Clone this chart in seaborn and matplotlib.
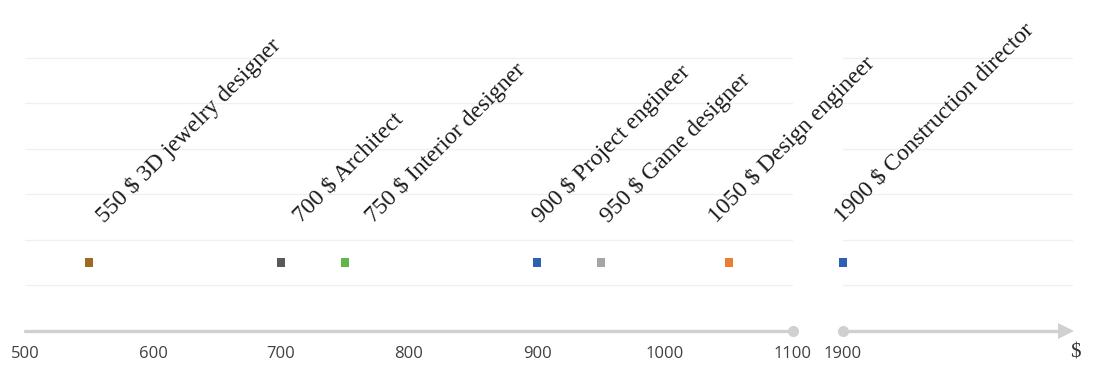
import matplotlib
matplotlib.use("Agg")
import matplotlib.pyplot as plt
import seaborn as sns
import pandas as pd

# salary per job (USD)
salaries = [550, 700, 750, 900, 950, 1050, 1900]
jobs = ["3D jewelry designer", "Architect", "Interior designer", "Project engineer",
        "Game designer", "Design engineer", "Construction director"]
colors = ["#9c6a22", "#595959", "#5fb548", "#2e5fb0", "#a5a5a5", "#ed7d31", "#2e5fb0"]
left_ticks = [500, 600, 700, 800, 900, 1000, 1100]
right_ticks = [1900]

# small label nudges (pixels) to mimic the original label placement
label_nudge = [15, 20, 28, 3, 7, -13, -1]

df = pd.DataFrame({"salary": salaries, "job": jobs})
df["row"] = 1.5
df["label"] = [f"{s} $ {j}" for s, j in zip(salaries, jobs)]
palette = dict(zip(jobs, colors))

sns.set_style("white")
fig = plt.figure(figsize=(10.93, 3.65), dpi=100)

W, H = 1093, 365
px = 128.3 / 100  # pixels per dollar
y0, y_top = 331, 12
ax_h = (y0 - y_top) / H
ax_b = (H - y0) / H

axR = fig.add_axes([843 / W, ax_b, 230 / W, ax_h])
axL = fig.add_axes([25 / W, ax_b, 768 / W, ax_h])
axL.set_xlim(500, 1100)
axR.set_xlim(1900, 1900 + 230 / px)

line_col = "#d0d0d0"
grid_col = "#f0f0f0"

for ax, sub in [(axL, df[df.salary <= 1100]), (axR, df[df.salary > 1100])]:
    ax.patch.set_visible(False)
    ax.set_ylim(0, 7)
    ax.set_yticks(range(1, 7))
    ax.set_yticklabels([])
    ax.yaxis.grid(True, color=grid_col, lw=1)
    ax.tick_params(length=0)
    for s in ax.spines.values():
        s.set_visible(False)
    sns.scatterplot(data=sub, x="salary", y="row", hue="job", palette=palette,
                    marker="s", s=38, edgecolor="none", legend=False, ax=ax)
    for coll in ax.collections:
        coll.set_clip_on(False)
    for _, r in sub.iterrows():
        i = jobs.index(r["job"])
        ax.annotate(r["label"], xy=(r["salary"], 2.37),
                    xytext=(label_nudge[i] * 0.72, 0), textcoords="offset points",
                    rotation=45, rotation_mode="anchor", ha="left", va="baseline",
                    fontsize=17, family="Liberation Serif", color="#1a1a1a",
                    annotation_clip=False, zorder=5)
    ax.set_xlabel("")
    ax.set_ylabel("")

# broken axis line
axL.plot([500, 1100], [0, 0], color=line_col, lw=2.4, clip_on=False, zorder=1)
axL.plot([1100], [0], "o", color=line_col, ms=7, clip_on=False)
end = 1900 + 223 / px
axR.plot([1900, end], [0, 0], color=line_col, lw=2.4, clip_on=False, zorder=1)
axR.plot([1900], [0], "o", color=line_col, ms=7, clip_on=False)
axR.plot([end], [0], ">", color=line_col, ms=12, mew=0, clip_on=False)

tick_font = dict(fontsize=12, family="Open Sans", color="#404040")
axL.set_xticks(left_ticks)
axL.set_xticklabels([str(t) for t in left_ticks], **tick_font)
axR.set_xticks(right_ticks)
axR.set_xticklabels([str(t) for t in right_ticks], **tick_font)
for ax in (axL, axR):
    ax.tick_params(axis="x", pad=11)

fig.text(1075 / W, (H - 353) / H, "$", ha="center", va="center",
         fontsize=15, family="Liberation Serif", color="#333333")

fig.savefig("out.png", dpi=100)
